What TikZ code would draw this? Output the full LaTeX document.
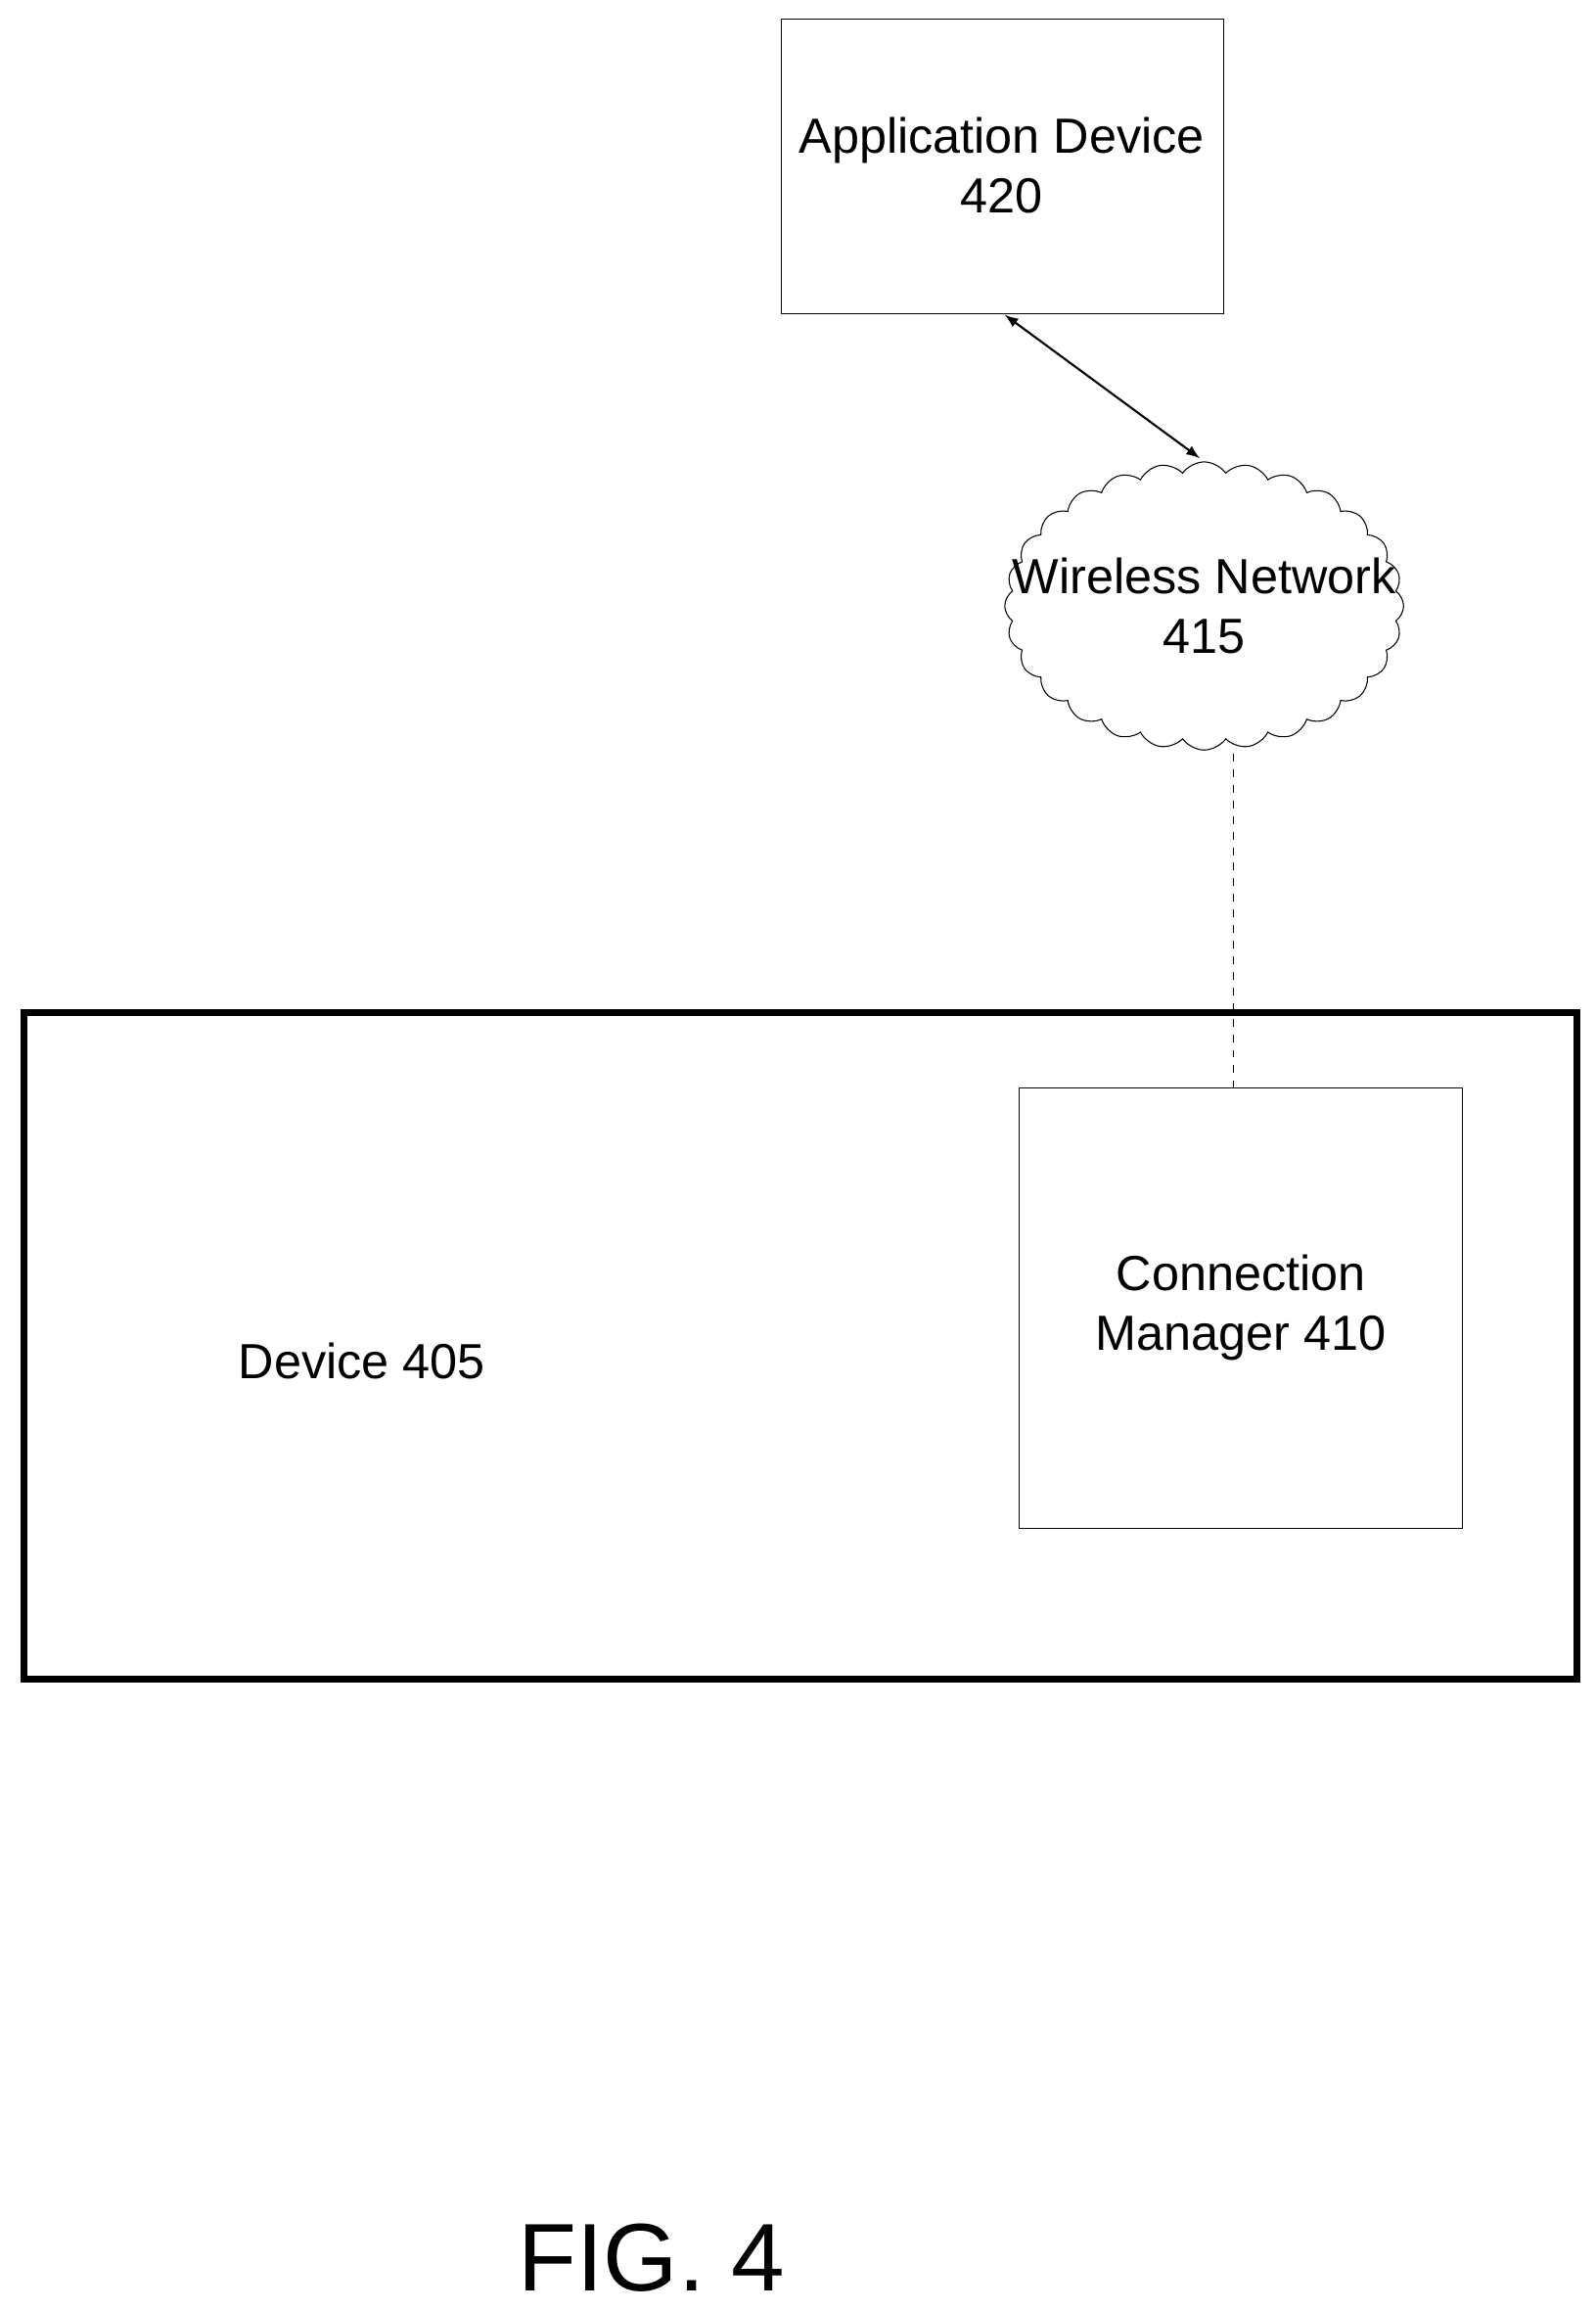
\documentclass[tikz,border=0pt]{standalone}
\usepackage{fontspec}
\setmainfont{Liberation Sans}
\usetikzlibrary{shapes.symbols}

\begin{document}
\begin{tikzpicture}[x=0.02cm,y=-0.02cm,
    box/.style={draw,thin,inner sep=0},
    lbl/.style={font=\fontsize{19}{23}\selectfont,align=center}]
    \useasboundingbox (0,0) rectangle (1080,1563);
    % Boxes:
    \draw [box] (529,13) rectangle (828,212);
    \node [lbl] (app) at (678,112) {Application Device\\420};
    \draw [line width=2.6pt] (16,685) rectangle (1067,1136);
    \node [lbl] (dev) at (245,921) {Device 405};
    \draw [box] (690,736) rectangle (990,1034);
    \node [lbl] (cm) at (840,885) {Connection\\Manager 410};
    % Cloud for the network:
    \node [draw,thin,cloud,cloud puffs=28,cloud puff arc=110,aspect=1.4,
        minimum width=5.4cm,minimum height=3.9cm,inner sep=0] (cloud) at (815,410) {};
    \node [lbl] (net) at (815,410) {Wireless Network\\415};
    % Connectors:
    \coordinate (apps) at (680,213);
    \coordinate (netn) at (812,310);
    \coordinate (nets) at (835,510);
    \coordinate (cmn) at (835,736);
    \draw [<->,>=latex,thick] (apps) -- (netn);
    \draw [dashed,thin] (nets) -- (cmn);
    \node [font=\fontsize{37}{40}\selectfont] (fig) at (441,1528) {FIG. 4};
\end{tikzpicture}
\end{document}
